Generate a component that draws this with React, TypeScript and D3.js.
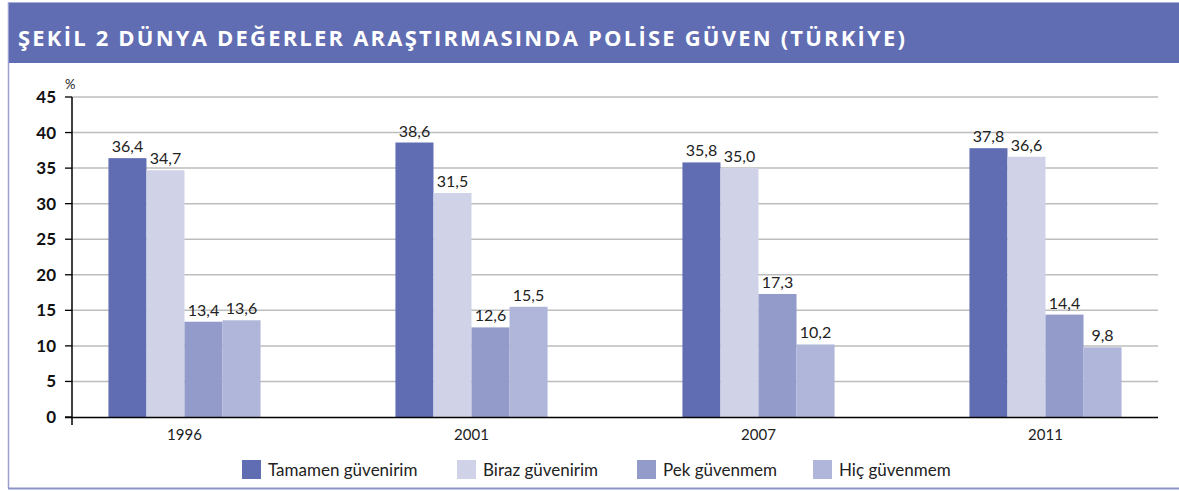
import React from 'react';
import * as d3 from 'd3';

const title = 'ŞEKİL 2 DÜNYA DEĞERLER ARAŞTIRMASINDA POLİSE GÜVEN (TÜRKİYE)';
const years = ['1996', '2001', '2007', '2011'];
const seriesNames = ['Tamamen güvenirim', 'Biraz güvenirim', 'Pek güvenmem', 'Hiç güvenmem'];
const tamamen = [36.4, 38.6, 35.8, 37.8];
const biraz = [34.7, 31.5, 35.0, 36.6];
const pek = [13.4, 12.6, 17.3, 14.4];
const hic = [13.6, 15.5, 10.2, 9.8];
const yTicks = [0, 5, 10, 15, 20, 25, 30, 35, 40, 45];
const colors = ['#606db2', '#d0d3e8', '#939bcb', '#b0b6da'];

const W = 1179;
const H = 491;

export default function App() {
  const series = [tamamen, biraz, pek, hic];
  const x = d3.scaleBand<string>().domain(years).range([72, 1158]).paddingInner(0.47).paddingOuter(0.127);
  const inner = d3.scaleBand<number>().domain([0, 1, 2, 3]).range([0, x.bandwidth()]);
  const y = d3.scaleLinear().domain([0, 45]).range([417, 97]);
  const fmt = (v: number) => v.toFixed(1).replace('.', ',');
  const legendX = [242, 457, 637, 813];

  return (
    <svg width={W} height={H} style={{ position: 'absolute', left: 0, top: 0, fontFamily: 'Lato, sans-serif' }}>
      <rect x={0} y={0} width={W} height={H} fill="#fff" />
      {/* frame */}
      <line x1={8.5} y1={2} x2={8.5} y2={488.5} stroke="#9aa0cf" strokeWidth={1.5} />
      <line x1={8} y1={488.5} x2={W} y2={488.5} stroke="#8b93c8" strokeWidth={2} />
      <line x1={8} y1={2.5} x2={W} y2={2.5} stroke="#aab0d8" strokeWidth={1} />
      <rect x={9} y={3} width={W - 9} height={60} fill="#606db2" />
      <text x={18} y={46} fill="#fff" fontFamily="'Open Sans', sans-serif" fontWeight={700} fontSize={22} letterSpacing={2.2}>
        {title}
      </text>

      {/* grid */}
      {yTicks.filter(t => t > 0).map(t => (
        <line key={t} x1={72} x2={1158} y1={y(t)} y2={y(t)} stroke="#bdbdbd" strokeWidth={1.5} />
      ))}
      {yTicks.map(t => (
        <g key={'t' + t}>
          <line x1={65} x2={72} y1={y(t)} y2={y(t)} stroke="#000" strokeWidth={1.3} />
          <text x={56} y={y(t)} dy="0.35em" textAnchor="end" fontSize={17} fontWeight={700} fill="#111">{t}</text>
        </g>
      ))}
      <text x={65} y={89} fontSize={13} fill="#222">%</text>

      {/* bars */}
      {years.map((yr, i) => (
        <g key={yr}>
          {series.map((s, j) => {
            const bx = (x(yr) ?? 0) + (inner(j) ?? 0);
            return (
              <g key={j}>
                <rect x={bx} y={y(s[i])} width={inner.bandwidth()} height={y(0) - y(s[i])} fill={colors[j]} />
                <text x={bx + inner.bandwidth() / 2} y={y(s[i]) - 6} textAnchor="middle" fontSize={16} fill="#222">{fmt(s[i])}</text>
              </g>
            );
          })}
          <text x={(x(yr) ?? 0) + x.bandwidth() / 2} y={440} textAnchor="middle" fontSize={15} fill="#222">{yr}</text>
        </g>
      ))}

      {/* axes */}
      <line x1={72} x2={72} y1={97} y2={425} stroke="#000" strokeWidth={1.5} />
      <line x1={65} x2={1158} y1={417.5} y2={417.5} stroke="#000" strokeWidth={1.5} />

      {/* legend */}
      {seriesNames.map((n, j) => (
        <g key={n}>
          <rect x={legendX[j]} y={460} width={19} height={19} fill={colors[j]} />
          <text x={legendX[j] + 26} y={470} dy="0.35em" fontSize={17} fill="#222">{n}</text>
        </g>
      ))}
    </svg>
  );
}
